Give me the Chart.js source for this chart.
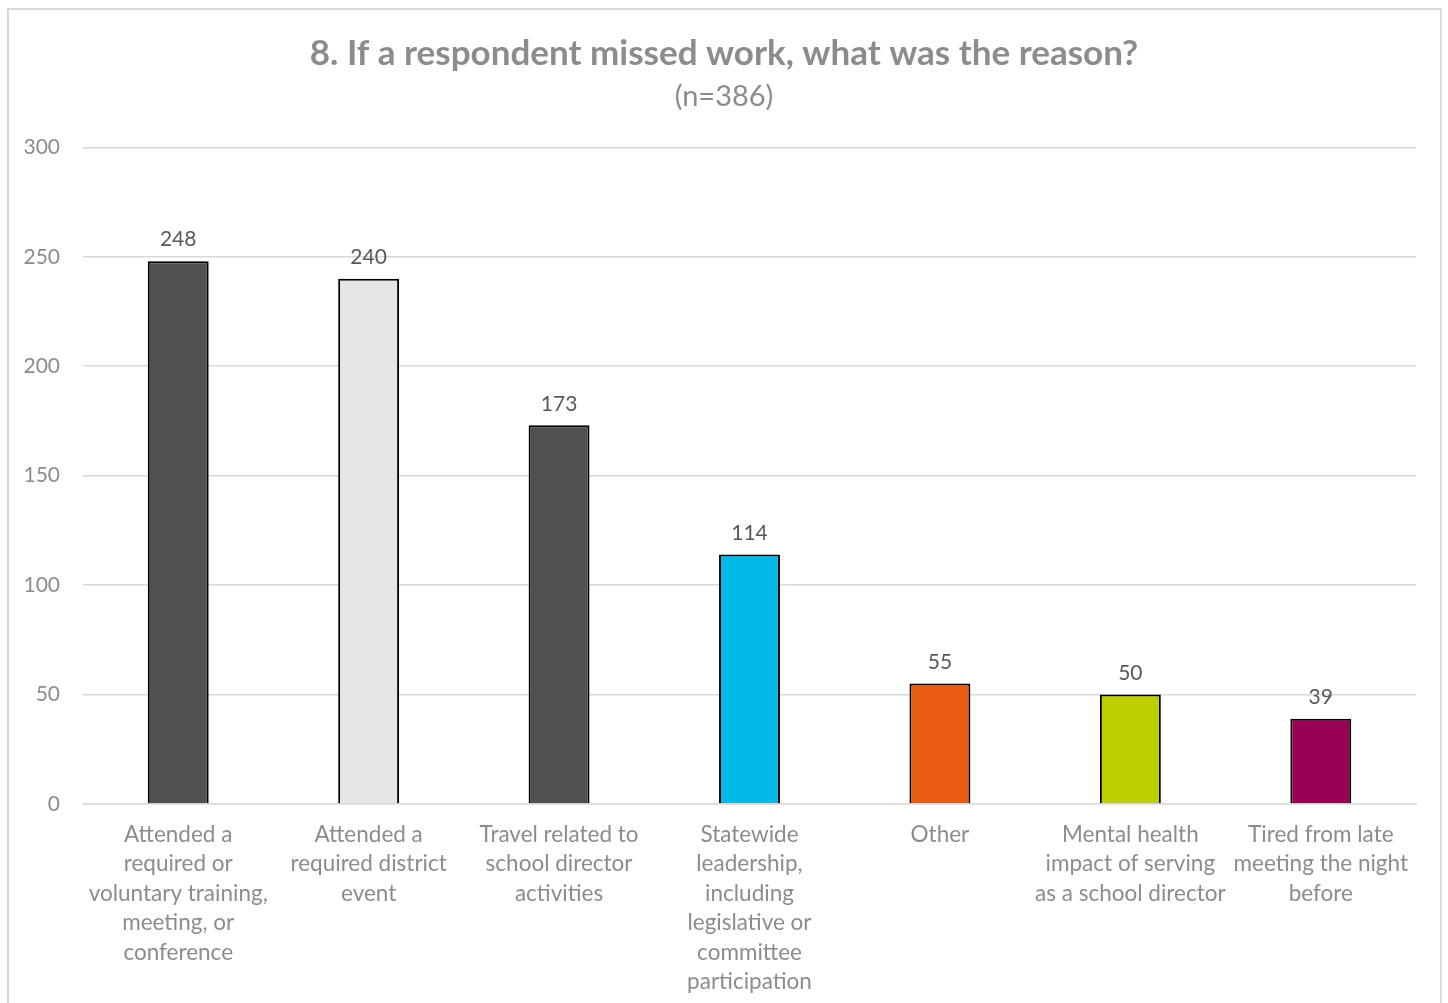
<!DOCTYPE html>
<html>
<head>
<meta charset="utf-8">
<script src="https://cdn.jsdelivr.net/npm/chart.js@4.4.1/dist/chart.umd.min.js"></script>
<style>
  html, body { margin: 0; padding: 0; background: #ffffff; }
  #wrap { position: relative; width: 1448px; height: 1003px; }
</style>
</head>
<body>
<div id="wrap"><canvas id="c" width="1448" height="1003"></canvas></div>
<script>
const titleText = "8. If a respondent missed work, what was the reason?";
const subtitleText = "(n=386)";
const categories = [
  ["Attended a", "required or", "voluntary training,", "meeting, or", "conference"],
  ["Attended a", "required district", "event"],
  ["Travel related to", "school director", "activities"],
  ["Statewide", "leadership,", "including", "legislative or", "committee", "participation"],
  ["Other"],
  ["Mental health", "impact of serving", "as a school director"],
  ["Tired from late", "meeting the night", "before"]
];
const counts = [248, 240, 173, 114, 55, 50, 39];
const barColors = ["#505050", "#e6e6e6", "#505050", "#00b9e6", "#e85d12", "#bccf00", "#990055"];
const yTicks = [0, 50, 100, 150, 200, 250, 300];

const FONT = "Lato, 'Open Sans', sans-serif";

const framePlugin = {
  id: 'frame',
  beforeDraw(chart) {
    const ctx = chart.ctx;
    ctx.save();
    ctx.fillStyle = '#ffffff';
    ctx.fillRect(0, 0, chart.width, chart.height);
    ctx.strokeStyle = '#d9d9d9';
    ctx.lineWidth = 2;
    ctx.strokeRect(8, 9, 1433, 1100);
    ctx.restore();
  }
};

const valueLabels = {
  id: 'valueLabels',
  afterDatasetsDraw(chart) {
    const ctx = chart.ctx;
    const meta = chart.getDatasetMeta(0);
    ctx.save();
    ctx.font = "21px " + FONT;
    ctx.fillStyle = '#595959';
    ctx.textAlign = 'center';
    ctx.textBaseline = 'bottom';
    meta.data.forEach((bar, i) => {
      ctx.fillText(String(chart.data.datasets[0].data[i]), bar.x, bar.y - 11);
    });
    ctx.restore();
  }
};

new Chart(document.getElementById('c'), {
  type: 'bar',
  data: {
    labels: categories,
    datasets: [{
      data: counts,
      backgroundColor: barColors,
      borderColor: '#000000',
      borderWidth: 2,
      borderSkipped: 'bottom',
      barPercentage: 0.64,
      categoryPercentage: 0.5
    }]
  },
  options: {
    responsive: false,
    animation: false,
    devicePixelRatio: 1,
    layout: { padding: { left: 0, right: 0, top: 0, bottom: 0 } },
    plugins: {
      legend: { display: false },
      tooltip: { enabled: false },
      title: {
        display: true,
        text: titleText,
        color: '#8c8c8c',
        font: { family: FONT, size: 35, weight: 'bold', lineHeight: 1.2 },
        padding: { top: 33, bottom: 4 }
      },
      subtitle: {
        display: true,
        text: subtitleText,
        color: '#8c8c8c',
        font: { family: FONT, size: 29, lineHeight: 1.2 },
        padding: { top: 0, bottom: 33.5 }
      }
    },
    scales: {
      y: {
        min: 0,
        max: 300,
        afterBuildTicks(scale) { scale.ticks = yTicks.map(v => ({ value: v })); },
        afterFit(scale) { scale.width = 83; },
        border: { display: false },
        grid: { color: '#d9d9d9', lineWidth: 1.5, drawTicks: false },
        ticks: { color: '#8c8c8c', font: { family: FONT, size: 21 }, padding: 23 }
      },
      spacer: {
        type: 'linear',
        position: 'right',
        display: true,
        afterFit(scale) { scale.width = 32; },
        border: { display: false },
        grid: { display: false, drawTicks: false },
        ticks: { display: false }
      },
      x: {
        afterFit(scale) { scale.height = 199; },
        border: { display: true, color: '#d9d9d9', width: 1.5 },
        grid: { display: false, drawTicks: false },
        ticks: {
          color: '#8c8c8c',
          font: { family: FONT, size: 22.5, lineHeight: 1.31 },
          padding: 16,
          autoSkip: false,
          maxRotation: 0,
          minRotation: 0
        }
      }
    }
  },
  plugins: [framePlugin, valueLabels]
});
</script>
</body>
</html>
